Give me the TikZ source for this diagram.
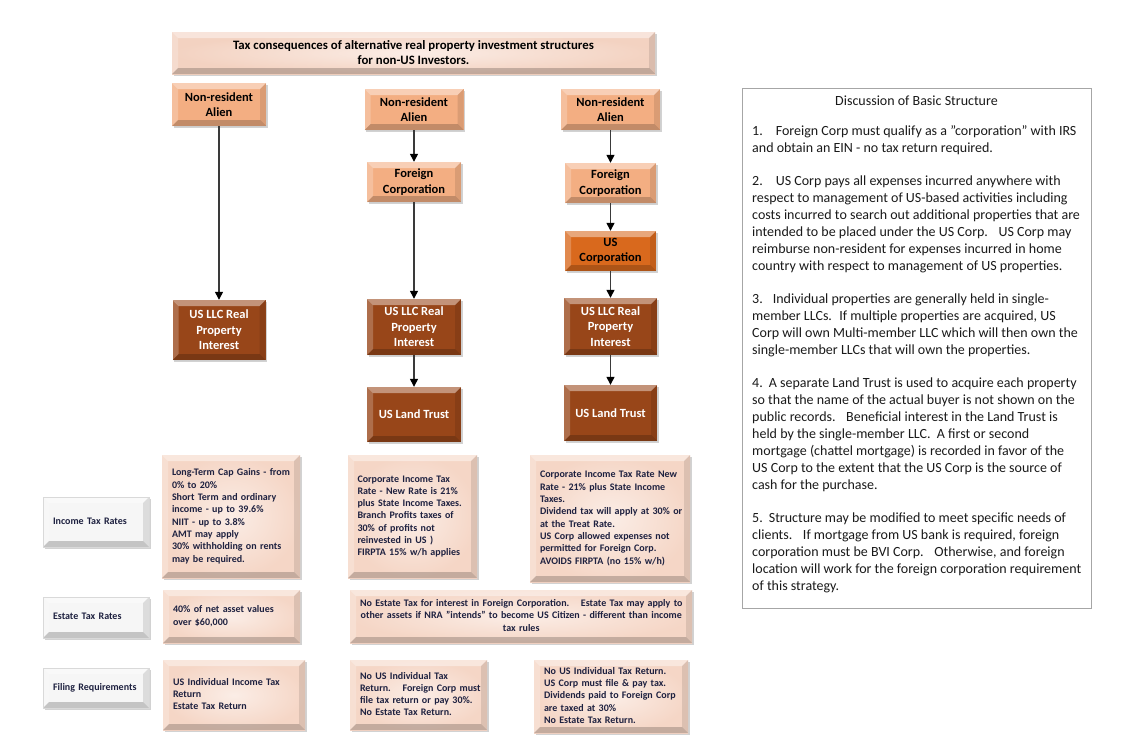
\documentclass[tikz,border=0pt]{standalone}
\usepackage{fontspec}
\setmainfont{Carlito}
\usetikzlibrary{arrows.meta,shadows,calc}
\definecolor{peachc}{HTML}{F3AE82}
\definecolor{orangec}{HTML}{D9691D}
\definecolor{brownc}{HTML}{984619}
\definecolor{pinkc}{HTML}{F5D6C6}
\definecolor{pinkin}{HTML}{FBEDE6}
\definecolor{titlec}{HTML}{F3D2C1}
\definecolor{titlein}{HTML}{FBEDE6}
\definecolor{lblc}{HTML}{F6F6F6}
\definecolor{navyc}{HTML}{1E2140}
\definecolor{arrowc}{HTML}{3A3A3A}
\definecolor{panelc}{HTML}{A6A6A6}
\definecolor{paneltxt}{HTML}{1A1A1A}
\def\bevw{6pt}
\newcommand\lrows[1]{\begin{tabular}{@{}l@{}}#1\end{tabular}}
\newcommand\crows[1]{\begin{tabular}{@{}c@{}}#1\end{tabular}}
\tikzset{
  bevel/.style={path picture={
    \coordinate (bsw) at (path picture bounding box.south west);
    \coordinate (bne) at (path picture bounding box.north east);
    \coordinate (bnw) at (path picture bounding box.north west);
    \coordinate (bse) at (path picture bounding box.south east);
    \fill[white,opacity=.42] (bnw) -- (bne) -- ($(bne)+(-\bevw,-\bevw)$) -- ($(bnw)+(\bevw,-\bevw)$) -- cycle;
    \fill[white,opacity=.22] (bnw) -- ($(bnw)+(\bevw,-\bevw)$) -- ($(bsw)+(\bevw,\bevw)$) -- (bsw) -- cycle;
    \fill[black,opacity=.20] (bsw) -- (bse) -- ($(bse)+(-\bevw,\bevw)$) -- ($(bsw)+(\bevw,\bevw)$) -- cycle;
    \fill[black,opacity=.10] (bne) -- (bse) -- ($(bse)+(-\bevw,\bevw)$) -- ($(bne)+(-\bevw,-\bevw)$) -- cycle;
  }},
  shad/.style={drop shadow={shadow xshift=1.5pt,shadow yshift=-1.8pt,opacity=.35}},
  peach/.style={rectangle,fill=peachc,bevel,shad,align=center,inner sep=0pt,
    font=\bfseries\fontsize{12.5}{15.5}\selectfont,text=black},
  usbox/.style={peach,fill=orangec},
  brownbox/.style={peach,fill=brownc,text=white},
  titlebox/.style={rectangle,inner color=titlein,outer color=titlec,bevel,shad,align=center,inner sep=0pt,
    font=\bfseries\fontsize{12.8}{15}\selectfont,text=black},
  txtbox/.style={rectangle,inner color=pinkin,outer color=pinkc,bevel,shad,align=left,
    inner xsep=10pt,inner ysep=0pt,font=\bfseries\fontsize{10}{12.3}\selectfont,text=navyc},
  ctrbox/.style={txtbox,align=center},
  lblbox/.style={rectangle,fill=lblc,draw=black!15,bevel,shad,align=left,
    inner xsep=10pt,inner ysep=0pt,text width=86pt,minimum height=#1,
    font=\bfseries\fontsize{10}{12}\selectfont,text=navyc},
  conn/.style={draw=arrowc,line width=1.3pt,-{Triangle[length=8pt,width=8pt,fill=black,color=black]}},
}
\begin{document}
\begin{tikzpicture}[x=1pt,y=-1pt]
\fill[white] (0,0) rectangle (1131,750);
\useasboundingbox (0,0) rectangle (1131,750);

% title
\node[titlebox,minimum width=483pt,minimum height=42pt] (title) at (413.5,53)
  {Tax consequences of alternative real property investment structures\\for non-US Investors.};

% column 1
\node[peach,minimum width=94pt,minimum height=43pt] (nra1) at (219,104.5) {Non-resident\\Alien};
\node[brownbox,minimum width=93pt,minimum height=60pt] (llc1) at (219,330) {US LLC Real\\Property\\Interest};

% column 2
\node[peach,minimum width=99pt,minimum height=41pt] (nra2) at (414,109.5) {Non-resident\\Alien};
\node[peach,minimum width=94pt,minimum height=40pt] (fc2) at (414,182) {Foreign\\Corporation};
\node[brownbox,minimum width=94pt,minimum height=56pt] (llc2) at (414,327) {US LLC Real\\Property\\Interest};
\node[brownbox,minimum width=94pt,minimum height=55pt] (tr2) at (414,414.5) {US Land Trust};

% column 3
\node[peach,minimum width=99pt,minimum height=41pt] (nra3) at (610.5,109.5) {Non-resident\\Alien};
\node[peach,minimum width=91pt,minimum height=40pt] (fc3) at (610.5,183) {Foreign\\Corporation};
\node[usbox,minimum width=91pt,minimum height=40pt] (usc) at (610.5,251) {US\\Corporation};
\node[brownbox,minimum width=93pt,minimum height=57pt] (llc3) at (610.5,326.5) {US LLC Real\\Property\\Interest};
\node[brownbox,minimum width=93pt,minimum height=56pt] (tr3) at (610.5,413) {US Land Trust};

% connectors
\draw[conn] (nra1.south) -- (llc1.north);
\draw[conn] (nra2.south) -- (fc2.north);
\draw[conn] (fc2.south) -- (llc2.north);
\draw[conn] (llc2.south) -- (tr2.north);
\draw[conn] (nra3.south) -- (fc3.north);
\draw[conn] (fc3.south) -- (usc.north);
\draw[conn] (usc.south) -- (llc3.north);
\draw[conn] (llc3.south) -- (tr3.north);

% row labels
\node[lblbox=50pt] (itl) at (96,522) {\lrows{Income Tax Rates}};
\node[lblbox=41pt] (etl) at (96,617.5) {\lrows{Estate Tax Rates}};
\node[lblbox=40pt] (frl) at (96,688) {\lrows{Filing Requirements}};

% income tax
\node[txtbox,text width=118pt,minimum height=123pt] (it1) at (231,516.5)
  {\lrows{Long-Term Cap Gains - from\\0\% to 20\%\\Short Term and ordinary\\income - up to 39.6\%\\NIIT - up to 3.8\%\\AMT may apply\\30\% withholding on rents\\may be required.}};
\node[txtbox,text width=110pt,minimum height=123pt,inner xsep=9.5pt] (it2) at (412.5,516.5)
  {\lrows{Corporate Income Tax\\Rate - New Rate is 21\%\\plus State Income Taxes.\\Branch Profits taxes of\\30\% of profits not\\reinvested in US )\\FIRPTA 15\% w/h applies}};
\node[txtbox,text width=140pt,minimum height=127pt] (it3) at (610,518.5)
  {\lrows{Corporate Income Tax Rate New\\Rate - 21\% plus State Income\\Taxes.\\Dividend tax will apply at 30\% or\\at the Treat Rate.\\US Corp allowed expenses not\\permitted for Foreign Corp.\\AVOIDS FIRPTA (no 15\% w/h)}};

% estate tax
\node[txtbox,text width=117pt,minimum height=53pt] (e1) at (231.5,616.5)
  {\lrows{40\% of net asset values\\over \$60,000}};
\node[ctrbox,text width=322pt,minimum height=53pt] (e2) at (521,616.5)
  {\crows{No Estate Tax for interest in Foreign Corporation.~~ Estate Tax may apply to\\other assets if NRA "intends" to become US Citizen - different than income\\tax rules}};

% filing
\node[txtbox,text width=122pt,minimum height=70pt] (fr1) at (234,695)
  {\lrows{US Individual Income Tax\\Return\\Estate Tax Return}};
\node[txtbox,text width=117pt,minimum height=70pt] (fr2) at (418.5,695)
  {\lrows{No US Individual Tax\\Return.~~ Foreign Corp must\\file tax return or pay 30\%.\\No Estate Tax Return.}};
\node[txtbox,text width=134pt,minimum height=73pt] (fr3) at (611,696.5)
  {\lrows{No US Individual Tax Return.\\US Corp must file \& pay tax.\\Dividends paid to Foreign Corp\\are taxed at 30\%\\No Estate Tax Return.}};

% discussion panel
\node[draw=panelc,line width=0.9pt,minimum width=349pt,minimum height=520pt,inner sep=0pt,anchor=north west] (panel) at (742,88) {};
\node[font=\fontsize{14}{17}\selectfont,text=paneltxt,inner sep=0pt] (ptitle) at (916.5,101) {Discussion of Basic Structure};
\node[anchor=north west,align=left,inner sep=0pt,text=paneltxt,font=\fontsize{14}{17}\selectfont] (pbody) at (752,125)
{1.\hspace{13pt}Foreign Corp must qualify as a "corporation" with IRS\\
and obtain an EIN - no tax return required.\\[16pt]
2.\hspace{13pt}US Corp pays all expenses incurred anywhere with\\
respect to management of US-based activities including\\
costs incurred to search out additional properties that are\\
intended to be placed under the US Corp.~~ US Corp may\\
reimburse non-resident for expenses incurred in home\\
country with respect to management of US properties.\\[16pt]
3.\hspace{10pt}Individual properties are generally held in single-\\
member LLCs.~ If multiple properties are acquired, US\\
Corp will own Multi-member LLC which will then own the\\
single-member LLCs that will own the properties.\\[16pt]
4.\hspace{6pt}A separate Land Trust is used to acquire each property\\
so that the name of the actual buyer is not shown on the\\
public records.~~ Beneficial interest in the Land Trust is\\
held by the single-member LLC.~ A first or second\\
mortgage (chattel mortgage) is recorded in favor of the\\
US Corp to the extent that the US Corp is the source of\\
cash for the purchase.\\[16pt]
5.\hspace{6pt}Structure may be modified to meet specific needs of\\
clients.~~ If mortgage from US bank is required, foreign\\
corporation must be BVI Corp.~~ Otherwise, and foreign\\
location will work for the foreign corporation requirement\\
of this strategy.};
\end{tikzpicture}
\end{document}
